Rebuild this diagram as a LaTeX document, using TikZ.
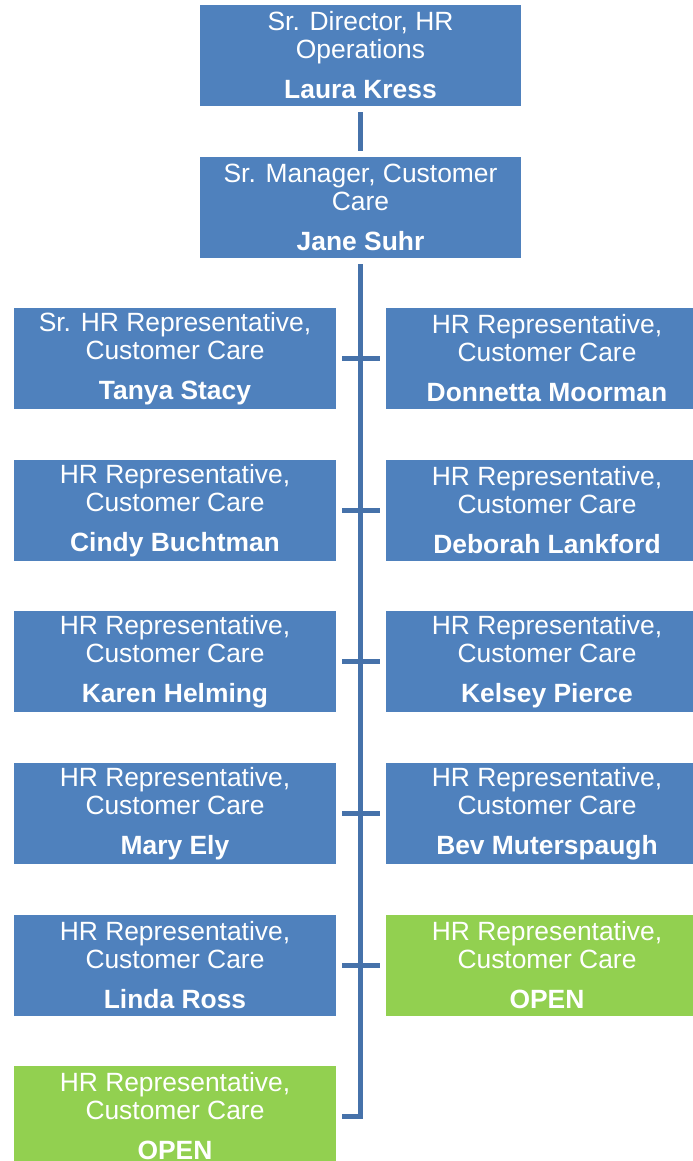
\documentclass[tikz,border=0pt]{standalone}
\usepackage{fontspec}
\setmainfont{Liberation Sans}
\usepackage{xcolor}
\usepackage{tikz}

\definecolor{boxblue}{HTML}{4F81BD}
\definecolor{boxgreen}{HTML}{92D050}
\definecolor{linkblue}{HTML}{4672AA}

\tikzset{
  post/.style={fill=boxblue, text=white, inner sep=0pt, align=center,
    minimum height=50.5pt, font=\fontsize{13.2}{14}\selectfont},
  openpost/.style={post, fill=boxgreen},
  toppost/.style={post, minimum width=160.5pt},
  sidepost/.style={minimum width=161pt},
  link/.style={draw=linkblue, line width=2.6pt}
}

\newcommand{\rep}[1]{HR Representative,\\Customer Care\\[6pt]\textbf{#1}}

\begin{document}
\begin{tikzpicture}[x=0.5pt, y=-0.5pt]
\useasboundingbox (0,0) rectangle (692,1161);
% top of the chart
\node[toppost] (dir) at (360.5,55.5) {Sr. Director, HR\\Operations\\[6pt]\textbf{Laura Kress}};
\node[toppost] (mgr) at (360.5,207.5) {Sr. Manager, Customer\\Care\\[6pt]\textbf{Jane Suhr}};
% left column
\node[post,sidepost] (l1) at (175,358.5) {Sr. HR Representative,\\Customer Care\\[6pt]\textbf{Tanya Stacy}};
\node[post,sidepost] (l2) at (175,510.5) {\rep{Cindy Buchtman}};
\node[post,sidepost] (l3) at (175,661.5) {\rep{Karen Helming}};
\node[post,sidepost] (l4) at (175,813.5) {\rep{Mary Ely}};
\node[post,sidepost] (l5) at (175,965.5) {\rep{Linda Ross}};
\node[openpost,sidepost] (l6) at (175,1116.5) {\rep{OPEN}};
% right column (runs past the page edge)
\node[post,sidepost] (r1) at (547,358.5) {\rep{Donnetta Moorman}};
\node[post,sidepost] (r2) at (547,510.5) {\rep{Deborah Lankford}};
\node[post,sidepost] (r3) at (547,661.5) {\rep{Kelsey Pierce}};
\node[post,sidepost] (r4) at (547,813.5) {\rep{Bev Muterspaugh}};
\node[openpost,sidepost] (r5) at (547,965.5) {\rep{OPEN}};
% connectors
\draw[link] ([yshift=-3pt]dir.south) -- ([yshift=3pt]mgr.north);
\coordinate (end) at (l6.east -| mgr.south);
\draw[link] ([yshift=-3pt]mgr.south) -- (end) -- ([xshift=3pt]l6.east);
\foreach \i in {1,...,5}
  \draw[link] ([xshift=3pt]l\i.east) -- ([xshift=-3pt]r\i.west);
\end{tikzpicture}
\end{document}
